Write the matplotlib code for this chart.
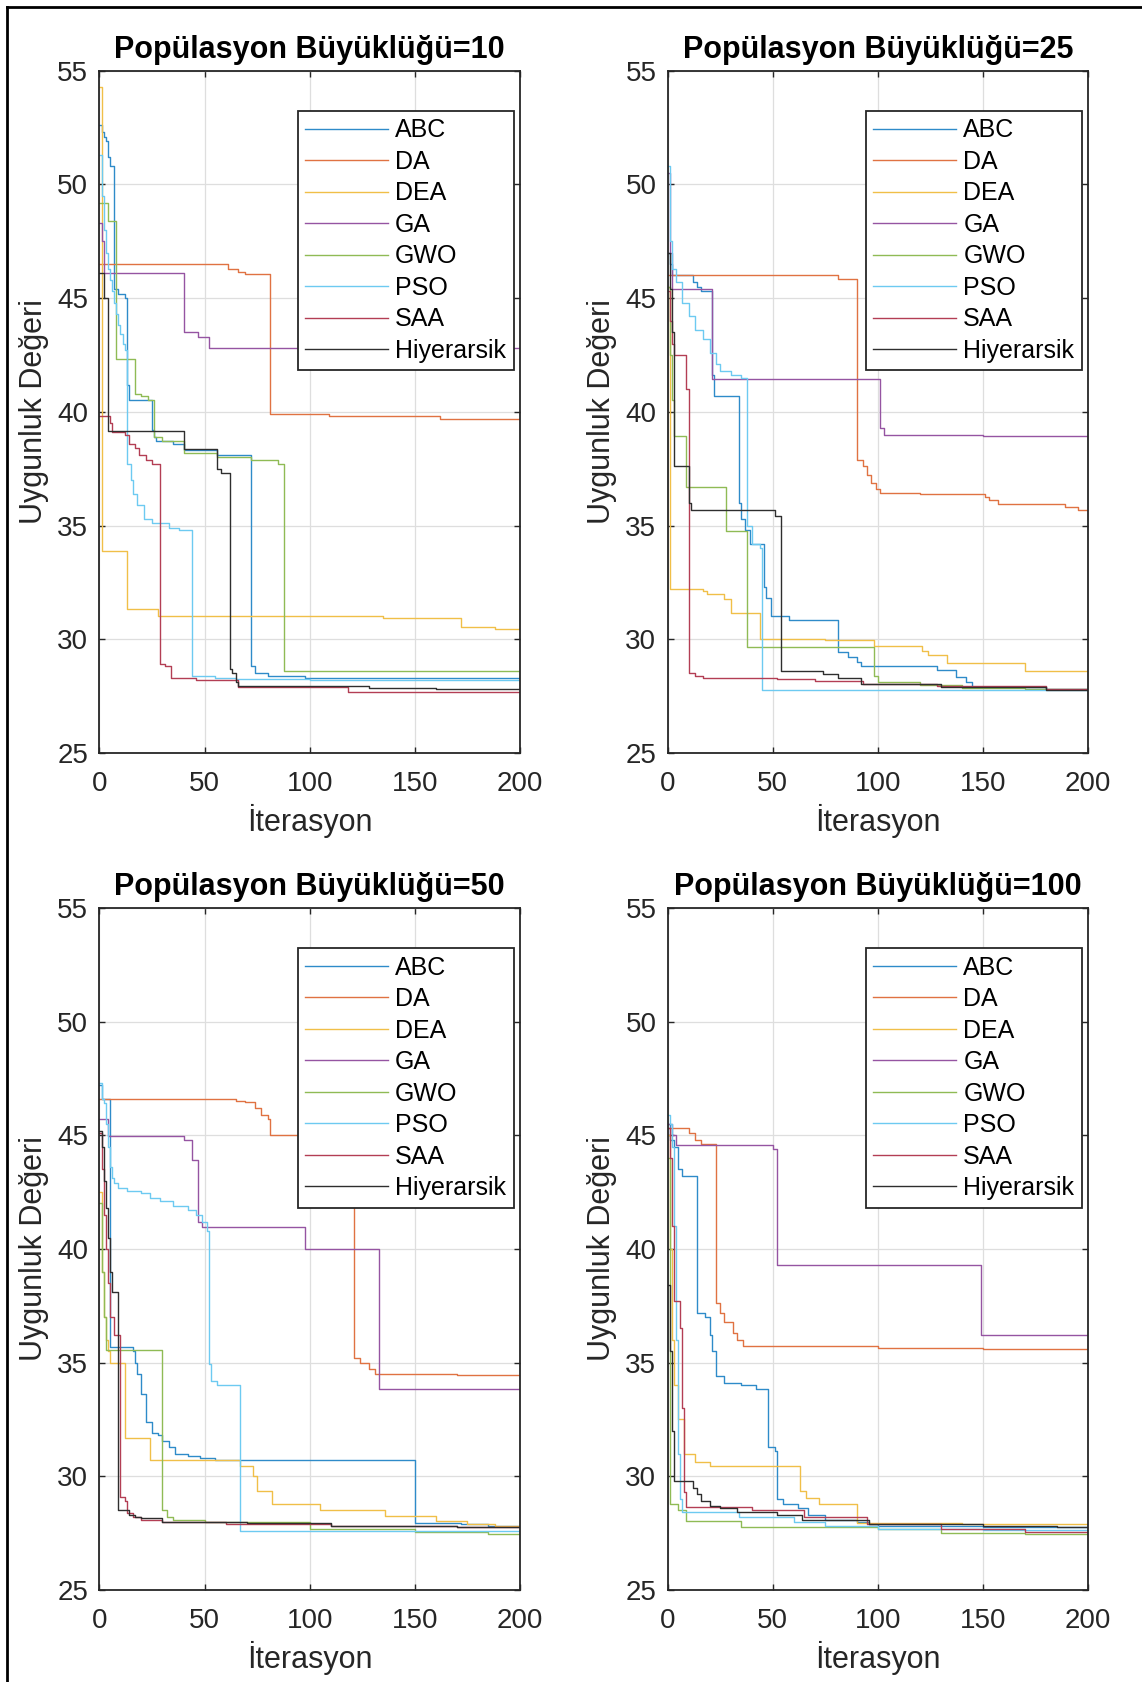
import matplotlib
matplotlib.use("Agg")
import matplotlib.pyplot as plt
from matplotlib.lines import Line2D
from matplotlib.colors import to_rgb

plt.rcParams["font.family"] = ["Liberation Sans", "DejaVu Sans"]

ALGORITHMS = ["ABC", "DA", "DEA", "GA", "GWO", "PSO", "SAA", "Hiyerarsik"]
COLORS = ["#0072BD", "#D95319", "#EDB120", "#7E2F8E",
          "#77AC30", "#4DBEEE", "#A2142F", "#000000"]
POP_SIZES = [10, 25, 50, 100]
MAX_ITER = 200
X_TICKS = [0, 50, 100, 150, 200]
Y_TICKS = [25, 30, 35, 40, 45, 50, 55]

# Best fitness per iteration, stored as (iteration, value) breakpoints;
# the value holds until the next breakpoint.

# ---- population 10 ----
P10_ABC = [(0, 52.6), (1, 52.3), (2, 52.1), (3, 51.9), (4, 51.2), (5, 50.8), (7, 45.4),
           (9, 45.2), (12, 45.0), (13, 41.2), (14, 40.5), (25, 39.2), (26, 38.9), (27, 38.7),
           (35, 38.6), (40, 38.3), (56, 38.1), (72, 28.8), (74, 28.5), (80, 28.4), (98, 28.3)]
P10_DA = [(0, 46.5), (61, 46.3), (66, 46.15), (69, 46.05), (81, 39.9), (109, 39.8), (162, 39.7)]
P10_DEA = [(0, 54.3), (1, 33.9), (13, 31.35), (28, 31.0), (135, 30.95), (172, 30.55), (188, 30.45)]
P10_GA = [(0, 48.3), (1, 47.5), (2, 46.1), (40, 43.5), (47, 43.3), (52, 42.8)]
P10_GWO = [(0, 49.2), (4, 48.4), (8, 42.3), (17, 40.8), (20, 40.7), (23, 40.5), (26, 38.9),
           (30, 38.7), (40, 38.2), (56, 38.0), (72, 37.9), (85, 37.7), (88, 28.6)]
P10_PSO = [(0, 51.3), (1, 49.5), (2, 48.0), (3, 47.0), (4, 46.3), (5, 45.8), (6, 45.3),
           (7, 44.8), (8, 44.3), (9, 43.8), (10, 43.4), (11, 43.0), (12, 42.7), (13, 37.7),
           (15, 37.0), (16, 36.4), (18, 35.9), (21, 35.3), (25, 35.1), (33, 34.9), (38, 34.8),
           (44, 28.4), (55, 28.3), (65, 28.25), (100, 28.2)]
P10_SAA = [(0, 39.8), (5, 39.5), (6, 39.1), (12, 39.0), (14, 38.6), (17, 38.4), (19, 38.1),
           (22, 37.9), (25, 37.7), (29, 28.9), (31, 28.8), (34, 28.3), (46, 28.2), (66, 27.9),
           (118, 27.7)]
P10_HIY = [(0, 46.1), (2, 45.0), (4, 39.15), (40, 38.35), (56, 37.5), (58, 37.3), (62, 28.7),
           (63, 28.5), (65, 28.1), (66, 27.95), (128, 27.85), (160, 27.8)]

# ---- population 25 ----
P25_ABC = [(0, 47.0), (1, 46.5), (2, 46.0), (12, 45.7), (14, 45.5), (16, 45.3), (21, 41.6),
           (22, 40.7), (34, 36.0), (35, 35.3), (37, 34.8), (39, 34.2), (46, 32.3), (47, 31.8),
           (49, 31.0), (58, 30.85), (81, 29.45), (86, 29.2), (90, 29.0), (92, 28.8),
           (128, 28.65), (137, 28.35), (142, 28.1), (145, 27.9), (180, 27.8)]
P25_DA = [(0, 46.0), (81, 45.85), (90, 37.9), (93, 37.6), (95, 37.2), (97, 36.85), (99, 36.6),
          (101, 36.45), (120, 36.4), (151, 36.25), (153, 36.1), (157, 35.95), (189, 35.8),
          (195, 35.7)]
P25_DEA = [(0, 45.5), (1, 32.2), (17, 32.1), (19, 32.0), (27, 31.75), (30, 31.15), (44, 30.0),
           (75, 29.95), (98, 29.7), (121, 29.5), (124, 29.3), (133, 28.95), (170, 28.6)]
P25_GA = [(0, 50.5), (1, 47.0), (2, 45.4), (21, 41.45), (101, 39.3), (103, 39.0), (150, 38.95)]
P25_GWO = [(0, 45.5), (1, 42.5), (2, 40.5), (3, 38.95), (9, 36.7), (28, 34.75), (38, 29.65),
           (98, 28.4), (100, 28.1), (120, 28.0), (140, 27.85), (170, 27.8)]
P25_PSO = [(0, 50.8), (1, 47.5), (2, 46.3), (4, 45.7), (7, 44.8), (10, 44.2), (13, 43.6),
           (17, 43.2), (20, 42.6), (23, 42.1), (25, 41.8), (30, 41.6), (35, 41.5), (38, 35.0),
           (40, 34.2), (44, 34.0), (45, 27.75)]
P25_SAA = [(0, 45.3), (1, 44.0), (2, 43.0), (3, 42.5), (9, 41.0), (10, 28.5), (13, 28.4),
           (17, 28.3), (52, 28.25), (70, 28.15), (93, 28.05), (128, 27.95), (180, 27.8)]
P25_HIY = [(0, 47.0), (1, 45.4), (2, 43.5), (3, 37.6), (10, 36.0), (11, 35.7), (51, 35.4),
           (54, 28.6), (74, 28.45), (81, 28.3), (92, 28.05), (130, 27.9), (180, 27.75)]

# ---- population 50 ----
P50_ABC = [(0, 47.2), (1, 46.6), (5, 35.7), (16, 35.5), (17, 35.0), (18, 34.5), (20, 33.6),
           (22, 32.4), (25, 31.9), (28, 31.8), (30, 31.55), (33, 31.3), (36, 31.0), (42, 30.9),
           (48, 30.8), (55, 30.7), (150, 27.95), (172, 27.9), (185, 27.8)]
P50_DA = [(0, 46.6), (65, 46.5), (69, 46.45), (74, 46.2), (77, 45.9), (80, 45.7), (81, 45.0),
          (121, 35.2), (124, 35.0), (128, 34.7), (131, 34.5), (170, 34.45)]
P50_DEA = [(0, 42.5), (1, 39.0), (2, 37.0), (3, 36.0), (4, 35.5), (5, 35.0), (12, 31.7),
           (24, 30.7), (67, 30.45), (73, 30.0), (75, 29.35), (82, 28.8), (105, 28.5),
           (136, 28.25), (160, 28.05), (175, 27.9), (188, 27.8)]
P50_GA = [(0, 45.7), (4, 44.95), (40, 44.8), (44, 43.9), (47, 41.2), (49, 40.95), (98, 40.0),
          (133, 33.85)]
P50_GWO = [(0, 42.0), (1, 39.0), (2, 37.0), (3, 35.55), (30, 28.5), (32, 28.2), (35, 28.1),
           (50, 28.0), (100, 27.7), (150, 27.55), (185, 27.45)]
P50_PSO = [(0, 47.3), (1, 46.6), (2, 46.4), (3, 45.5), (4, 44.5), (5, 43.6), (6, 43.1),
           (7, 42.9), (9, 42.7), (13, 42.55), (20, 42.45), (24, 42.25), (29, 42.1), (35, 41.9),
           (42, 41.7), (46, 41.5), (49, 41.2), (51, 40.8), (52, 34.95), (53, 34.2), (56, 34.0),
           (67, 27.6)]
P50_SAA = [(0, 45.1), (1, 43.5), (2, 41.5), (3, 40.0), (4, 38.5), (5, 37.0), (7, 36.2),
           (10, 29.1), (12, 28.9), (13, 28.4), (16, 28.2), (20, 28.1), (30, 28.0), (60, 27.9),
           (110, 27.8), (170, 27.75)]
P50_HIY = [(0, 45.2), (1, 44.5), (2, 43.0), (3, 41.8), (4, 40.5), (5, 39.0), (6, 38.1),
           (9, 28.5), (14, 28.3), (17, 28.2), (20, 28.15), (30, 28.0), (70, 27.95),
           (110, 27.8), (170, 27.75)]

# ---- population 100 ----
P100_ABC = [(0, 45.5), (1, 44.8), (3, 44.5), (5, 43.5), (7, 43.2), (14, 37.2), (18, 37.0),
            (20, 36.2), (21, 35.5), (23, 34.4), (27, 34.1), (35, 34.0), (42, 33.85), (48, 31.3),
            (51, 31.1), (52, 29.0), (55, 28.8), (62, 28.6), (67, 28.3), (75, 28.1), (90, 28.0),
            (96, 27.9), (100, 27.8), (150, 27.75)]
P100_DA = [(0, 45.3), (10, 45.1), (13, 44.8), (16, 44.6), (23, 37.6), (25, 37.2), (27, 36.8),
           (31, 36.3), (33, 36.0), (36, 35.75), (100, 35.65), (150, 35.6)]
P100_DEA = [(0, 45.0), (1, 40.0), (2, 36.0), (3, 34.0), (5, 32.5), (8, 31.0), (13, 30.65),
            (20, 30.45), (63, 29.35), (66, 29.05), (72, 28.8), (90, 27.95), (140, 27.9)]
P100_GA = [(0, 45.5), (2, 45.0), (4, 44.55), (50, 44.4), (52, 39.3), (149, 36.2)]
P100_GWO = [(0, 44.0), (1, 28.8), (5, 28.5), (9, 28.05), (35, 27.75), (100, 27.7),
            (130, 27.5), (170, 27.45)]
P100_PSO = [(0, 45.9), (1, 45.5), (2, 44.5), (3, 41.0), (4, 36.0), (5, 31.0), (6, 29.0),
            (7, 28.45), (34, 28.2), (60, 28.0), (75, 27.8), (100, 27.7), (150, 27.65)]
P100_SAA = [(0, 45.3), (1, 44.0), (2, 41.0), (3, 37.7), (6, 36.5), (7, 33.0), (8, 29.3),
            (9, 28.65), (40, 28.5), (65, 28.2), (95, 27.9), (130, 27.7), (170, 27.55)]
P100_HIY = [(0, 38.4), (1, 35.5), (2, 32.0), (3, 29.8), (12, 29.5), (14, 29.2), (16, 28.9),
            (20, 28.7), (25, 28.6), (33, 28.45), (52, 28.3), (64, 28.1), (96, 27.9),
            (150, 27.8), (185, 27.75)]

SERIES_BY_POP = {
    10: [P10_ABC, P10_DA, P10_DEA, P10_GA, P10_GWO, P10_PSO, P10_SAA, P10_HIY],
    25: [P25_ABC, P25_DA, P25_DEA, P25_GA, P25_GWO, P25_PSO, P25_SAA, P25_HIY],
    50: [P50_ABC, P50_DA, P50_DEA, P50_GA, P50_GWO, P50_PSO, P50_SAA, P50_HIY],
    100: [P100_ABC, P100_DA, P100_DEA, P100_GA, P100_GWO, P100_PSO, P100_SAA, P100_HIY],
}


def soften(color, amount=0.18):
    """Blend a colour toward white (thin lines render lighter)."""
    r, g, b = to_rgb(color)
    return (r + (1 - r) * amount, g + (1 - g) * amount, b + (1 - b) * amount)


W, H = 1142, 1682
fig = plt.figure(figsize=(W / 100, H / 100), dpi=100)
fig.patch.set_facecolor("white")

AX_W = 420.6 / W
AX_H = 682.2 / H
LEFTS = [99.4 / W, 667.5 / W]
BOTTOMS = [1 - 752.9 / H, 1 - 1590.0 / H]

EDGE = "#262626"
GRID = "#dedede"

for k, pop in enumerate(POP_SIZES):
    row, col = divmod(k, 2)
    ax = fig.add_axes([LEFTS[col], BOTTOMS[row], AX_W, AX_H])
    for pts, name, color in zip(SERIES_BY_POP[pop], ALGORITHMS, COLORS):
        xs = [p[0] for p in pts] + [MAX_ITER]
        ys = [p[1] for p in pts] + [pts[-1][1]]
        ax.step(xs, ys, where="post", color=soften(color), lw=1.0, label=name)

    ax.set_xlim(0, MAX_ITER)
    ax.set_ylim(Y_TICKS[0], Y_TICKS[-1])
    ax.set_xticks(X_TICKS)
    ax.set_yticks(Y_TICKS)
    ax.grid(True, color=GRID, lw=0.9)
    ax.set_axisbelow(True)
    for side in ax.spines.values():
        side.set_color(EDGE)
        side.set_linewidth(1.3)
    ax.tick_params(axis="both", direction="in", length=4.5, width=1.0, color=EDGE,
                   labelsize=20, labelcolor=EDGE, top=True, right=True)
    ax.tick_params(axis="x", pad=13)
    ax.tick_params(axis="y", pad=8)

    ax.set_title(f"Popülasyon Büyüklüğü={pop}", fontsize=22, fontweight="bold", pad=9)
    ax.set_xlabel("İterasyon", fontsize=22, color=EDGE, labelpad=5)
    ax.set_ylabel("Uygunluk Değeri", fontsize=22, color=EDGE, labelpad=6)

    leg = ax.legend(loc="upper right", bbox_to_anchor=(0.985, 0.941), fontsize=18,
                    frameon=True, fancybox=False, framealpha=1.0, edgecolor=EDGE,
                    borderpad=0.3, labelspacing=0.3, handlelength=3.3,
                    handletextpad=0.3, borderaxespad=0.0)
    leg.get_frame().set_linewidth(1.3)

# outer frame along the left and top edges
bx = 6.5 / W
by = 1 - 6.5 / H
fig.add_artist(Line2D([bx, bx], [0, by], transform=fig.transFigure, color="black", lw=2.0))
fig.add_artist(Line2D([bx, 1], [by, by], transform=fig.transFigure, color="black", lw=2.0))

fig.savefig("out.png", dpi=100, facecolor="white")
